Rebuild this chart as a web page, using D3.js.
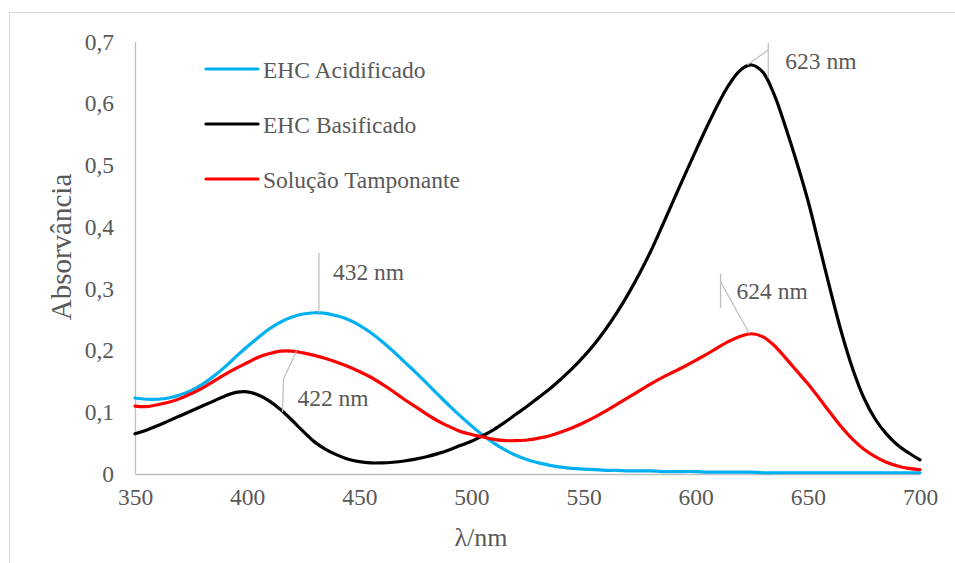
<!DOCTYPE html>
<html>
<head>
<meta charset="utf-8">
<script src="https://cdn.jsdelivr.net/npm/d3@7"></script>
<style>
  html, body { margin: 0; padding: 0; background: #fff; }
  svg { display: block; }
</style>
</head>
<body>
<script>
// Wavelength grid (nm), 5 nm step
const wavelengths = d3.range(350, 701, 5);

// Absorbance spectra
const acidificado = [
  0.123, 0.121, 0.121, 0.123, 0.128, 0.135, 0.145, 0.158, 0.173, 0.190,
  0.206, 0.221, 0.235, 0.246, 0.254, 0.259, 0.261, 0.260, 0.256, 0.250,
  0.241, 0.229, 0.215, 0.199, 0.182, 0.165, 0.147, 0.129, 0.111, 0.094,
  0.078, 0.063, 0.050, 0.039, 0.030, 0.023, 0.018, 0.014, 0.011, 0.009,
  0.008, 0.007, 0.006, 0.006, 0.005, 0.005, 0.005, 0.004, 0.004, 0.004,
  0.004, 0.003, 0.003, 0.003, 0.003, 0.003, 0.002, 0.002, 0.002, 0.002,
  0.002, 0.002, 0.002, 0.002, 0.002, 0.002, 0.002, 0.002, 0.002, 0.002,
  0.002
];
const basificado = [
  0.065, 0.071, 0.078, 0.086, 0.094, 0.102, 0.110, 0.118, 0.126, 0.132,
  0.133, 0.128, 0.118, 0.104, 0.087, 0.069, 0.052, 0.040, 0.031, 0.024,
  0.020, 0.018, 0.018, 0.019, 0.021, 0.024, 0.028, 0.033, 0.039, 0.046,
  0.053, 0.062, 0.072, 0.084, 0.097, 0.110, 0.124, 0.138, 0.154, 0.171,
  0.190, 0.211, 0.235, 0.262, 0.292, 0.325, 0.361, 0.401, 0.442, 0.483,
  0.523, 0.562, 0.599, 0.631, 0.654, 0.662, 0.650, 0.614, 0.562, 0.505,
  0.443, 0.371, 0.298, 0.229, 0.170, 0.123, 0.089, 0.065, 0.047, 0.034,
  0.023
];
const tamponante = [
  0.110, 0.109, 0.112, 0.116, 0.122, 0.130, 0.139, 0.150, 0.161, 0.171,
  0.180, 0.189, 0.195, 0.199, 0.199, 0.196, 0.192, 0.187, 0.181, 0.174,
  0.166, 0.157, 0.146, 0.134, 0.121, 0.109, 0.097, 0.086, 0.077, 0.069,
  0.064, 0.060, 0.056, 0.054, 0.054, 0.055, 0.058, 0.062, 0.068, 0.075,
  0.083, 0.092, 0.102, 0.113, 0.124, 0.135, 0.146, 0.156, 0.165, 0.174,
  0.184, 0.194, 0.205, 0.215, 0.223, 0.227, 0.222, 0.208, 0.188, 0.167,
  0.146, 0.123, 0.099, 0.076, 0.056, 0.040, 0.028, 0.019, 0.013, 0.009,
  0.007
];

const seriesNames = ["EHC Acidificado", "EHC Basificado", "Solução Tamponante"];
const seriesColors = ["#00b0f0", "#000000", "#ff0000"];
const seriesValues = [acidificado, basificado, tamponante];

// Axis ticks
const xTicks = [350, 400, 450, 500, 550, 600, 650, 700];
const yTicks = [0, 0.1, 0.2, 0.3, 0.4, 0.5, 0.6, 0.7];
const yTickLabels = ["0", "0,1", "0,2", "0,3", "0,4", "0,5", "0,6", "0,7"];

// Peak annotations
const peakNm = [432, 422, 623, 624];
const peakAbs = [0.261, 0.199, 0.662, 0.227];
const peakText = ["432 nm", "422 nm", "623 nm", "624 nm"];

const FONT = "'Liberation Serif', Tinos, 'Times New Roman', Times, 'Nimbus Roman', 'Nimbus Roman No9 L', FreeSerif, 'DejaVu Serif', 'Noto Serif', serif";
const INK = "#595959";

const W = 955, H = 563;
const svg = d3.select("body").append("svg").attr("width", W).attr("height", H)
  .attr("font-family", FONT);

// chart frame
svg.append("rect")
  .attr("x", 9.5).attr("y", 12.5)
  .attr("width", 960).attr("height", 600)
  .attr("fill", "none").attr("stroke", "#d9d9d9").attr("stroke-width", 1);

const x = d3.scaleLinear().domain([350, 700]).range([135, 920]);
const y = d3.scaleLinear().domain([0, 0.7]).range([474, 41.5]);

// y axis
const yAxis = svg.append("g").attr("transform", "translate(135,0)")
  .call(d3.axisLeft(y).tickValues(yTicks).tickSize(0).tickPadding(21)
    .tickFormat((d, i) => yTickLabels[i]))
  .attr("font-family", FONT).attr("font-size", 23.5);
yAxis.select(".domain").attr("stroke", "#bfbfbf").attr("stroke-width", 1.3);
yAxis.selectAll("text").attr("fill", INK);

// x axis
const xAxis = svg.append("g").attr("transform", "translate(0,474)")
  .call(d3.axisBottom(x).tickValues(xTicks).tickSize(0).tickPadding(14)
    .tickFormat(d3.format("d")))
  .attr("font-family", FONT).attr("font-size", 23.5);
xAxis.select(".domain").attr("stroke", "#bfbfbf").attr("stroke-width", 1.3);
xAxis.selectAll("text").attr("fill", INK);

// axis titles
svg.append("text")
  .attr("x", 481).attr("y", 546)
  .attr("text-anchor", "middle").attr("font-size", 26).attr("fill", INK)
  .text("λ/nm");
svg.append("text")
  .attr("transform", "translate(71,247) rotate(-90)")
  .attr("text-anchor", "middle").attr("font-size", 29).attr("fill", INK)
  .text("Absorvância");

// spectra
const line = d3.line()
  .x((d, i) => x(wavelengths[i]))
  .y(d => y(d))
  .curve(d3.curveCatmullRom.alpha(0.5));

seriesValues.forEach((vals, k) => {
  svg.append("path")
    .datum(vals)
    .attr("d", line)
    .attr("fill", "none")
    .attr("stroke", seriesColors[k])
    .attr("stroke-width", 3.2)
    .attr("stroke-linejoin", "round")
    .attr("stroke-linecap", "round");
});

// legend
const legend = svg.append("g");
seriesNames.forEach((name, k) => {
  const ly = 69 + k * 55;
  legend.append("line")
    .attr("x1", 206).attr("x2", 258).attr("y1", ly).attr("y2", ly)
    .attr("stroke", seriesColors[k]).attr("stroke-width", 3.2)
    .attr("stroke-linecap", "round");
  legend.append("text")
    .attr("x", 263).attr("y", ly + 8.5)
    .attr("font-size", 23.5).attr("fill", INK)
    .text(name);
});

// peak labels with leader lines (pixel offsets from the peak point)
const leaders = [
  { path: [[0, 0], [0, -60]], tx: 14, ty: -33 },
  { path: [[0, 0], [-13, 28], [-14, 61]], tx: 1, ty: 55 },
  { path: [[0, 0], [21, -15]], tick: [21, -22, 21, 13], tx: 38, ty: 4 },
  { path: [[0, 0], [-29, -52]], tick: [-29, -60, -29, -26], tx: -13, ty: -35 }
];
const ann = svg.append("g");
peakNm.forEach((nm, i) => {
  const px = x(nm), py = y(peakAbs[i]);
  const L = leaders[i];
  ann.append("path")
    .attr("d", d3.line()(L.path.map(p => [px + p[0], py + p[1]])))
    .attr("fill", "none").attr("stroke", "#bfbfbf").attr("stroke-width", 1.3);
  if (L.tick) {
    ann.append("line")
      .attr("x1", px + L.tick[0]).attr("y1", py + L.tick[1])
      .attr("x2", px + L.tick[2]).attr("y2", py + L.tick[3])
      .attr("stroke", "#bfbfbf").attr("stroke-width", 1.3);
  }
  ann.append("text")
    .attr("x", px + L.tx).attr("y", py + L.ty)
    .attr("font-size", 23.5).attr("fill", INK)
    .text(peakText[i]);
});
</script>
</body>
</html>
